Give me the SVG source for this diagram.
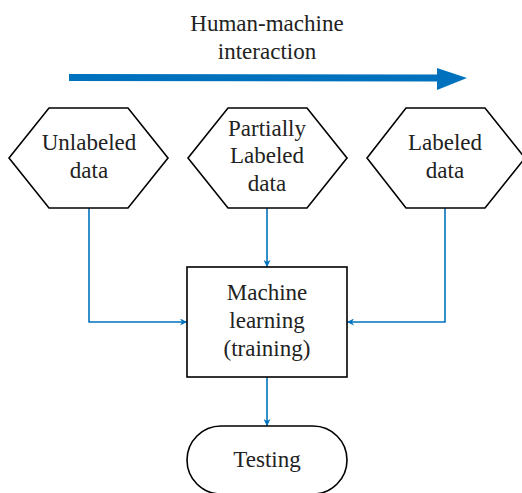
<svg xmlns="http://www.w3.org/2000/svg" width="522" height="493" viewBox="0 0 522 493">
<style>
.n{fill:#fff;stroke:#000;stroke-width:1.6}
.t{font-size:23px;fill:#222;text-anchor:middle}
.c{fill:none;stroke:#0072BD;stroke-width:1.6}
</style>
<defs>
<marker id="ah" viewBox="0 0 10 10" refX="10" refY="5" markerWidth="7" markerHeight="7" markerUnits="userSpaceOnUse" orient="auto">
<path d="M0,0 L10,5 L0,10 L3,5 Z" fill="#0072BD"/>
</marker>
</defs>
<g font-family="'Liberation Serif', 'DejaVu Serif', serif">
<g id="title">
<text class="t" x="267" y="31">Human-machine</text>
<text class="t" x="267" y="59">interaction</text>
<line x1="69" y1="77.5" x2="440" y2="78" stroke="#0072BD" stroke-width="7"/>
<polygon points="437,68 467,78 437,90" fill="#0072BD"/>
</g>
<g id="connectors">
<path class="c" d="M89,208 V322 H187" marker-end="url(#ah)"/>
<path class="c" d="M267,208 V267" marker-end="url(#ah)"/>
<path class="c" d="M445,208 V322 H347" marker-end="url(#ah)"/>
<path class="c" d="M267,377 V426" marker-end="url(#ah)"/>
</g>
<g id="unlabeled">
<polygon class="n" points="9,158 49,108 128,108 168,158 128,208 49,208"/>
<text class="t" x="89" y="150">Unlabeled</text>
<text class="t" x="89" y="178">data</text>
</g>
<g id="partially">
<polygon class="n" points="188,158 228,108 307,108 347,158 307,208 228,208"/>
<text class="t" x="267" y="136">Partially</text>
<text class="t" x="267" y="163">Labeled</text>
<text class="t" x="267" y="191">data</text>
</g>
<g id="labeled">
<polygon class="n" points="367,158 406,108 485,108 525,158 485,208 406,208"/>
<text class="t" x="445" y="150">Labeled</text>
<text class="t" x="445" y="178">data</text>
</g>
<g id="ml">
<rect class="n" x="187" y="267" width="160" height="110"/>
<text class="t" x="267" y="300">Machine</text>
<text class="t" x="267" y="328">learning</text>
<text class="t" x="267" y="356">(training)</text>
</g>
<g id="testing">
<rect class="n" x="187" y="426" width="160" height="68" rx="34" ry="34"/>
<text class="t" x="267" y="467">Testing</text>
</g>
</g>
</svg>
